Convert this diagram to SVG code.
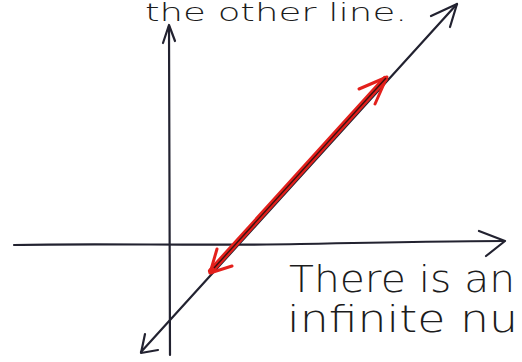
<svg xmlns="http://www.w3.org/2000/svg" width="522" height="362" viewBox="0 0 522 362">
<style>
.ink{fill:none;stroke:#222230;stroke-width:2.2;stroke-linecap:round;stroke-linejoin:round}
.red{fill:none;stroke:#e3201c;stroke-linecap:round;stroke-linejoin:round}
.hand{font-family:"DejaVu Sans","Liberation Sans",sans-serif;fill:#1c1c1c;font-weight:300}
</style>
<rect width="522" height="362" fill="#ffffff"/>
<text class="hand" x="145" y="21" font-size="24" textLength="262" lengthAdjust="spacingAndGlyphs">the other line.</text>
<g id="axes">
<path class="ink" d="M170 355 L169 26"/>
<path class="ink" d="M163 43 L169 25 L175 41"/>
<path class="ink" d="M14 245 C100 243 200 246 300 244 C400 242 460 241 504 241"/>
<path class="ink" d="M479 231 L505 241 L486 256"/>
</g>
<g id="connectors">
<path class="ink" d="M141 352 L457 4"/>
<path class="ink" d="M145 334 L141 353 L158 350"/>
<path class="ink" d="M431 16 L457 4 L450 27"/>
<path class="red" stroke-width="6" d="M211 271 L385 79"/>
<path class="red" stroke-width="3" d="M217 249 L210 273 L232 266"/>
<path class="red" stroke-width="3" d="M359 89 L387 77 L375 104"/>
<path d="M214 268 L386 78" stroke="#3a1010" stroke-width="1.4" fill="none"/>
</g>
<g id="label">
<text class="hand" x="289" y="292" font-size="38" textLength="226" lengthAdjust="spacingAndGlyphs">There is an</text>
<text class="hand" x="287" y="332" font-size="38" textLength="231" lengthAdjust="spacingAndGlyphs">infinite nu</text>
</g>
</svg>
